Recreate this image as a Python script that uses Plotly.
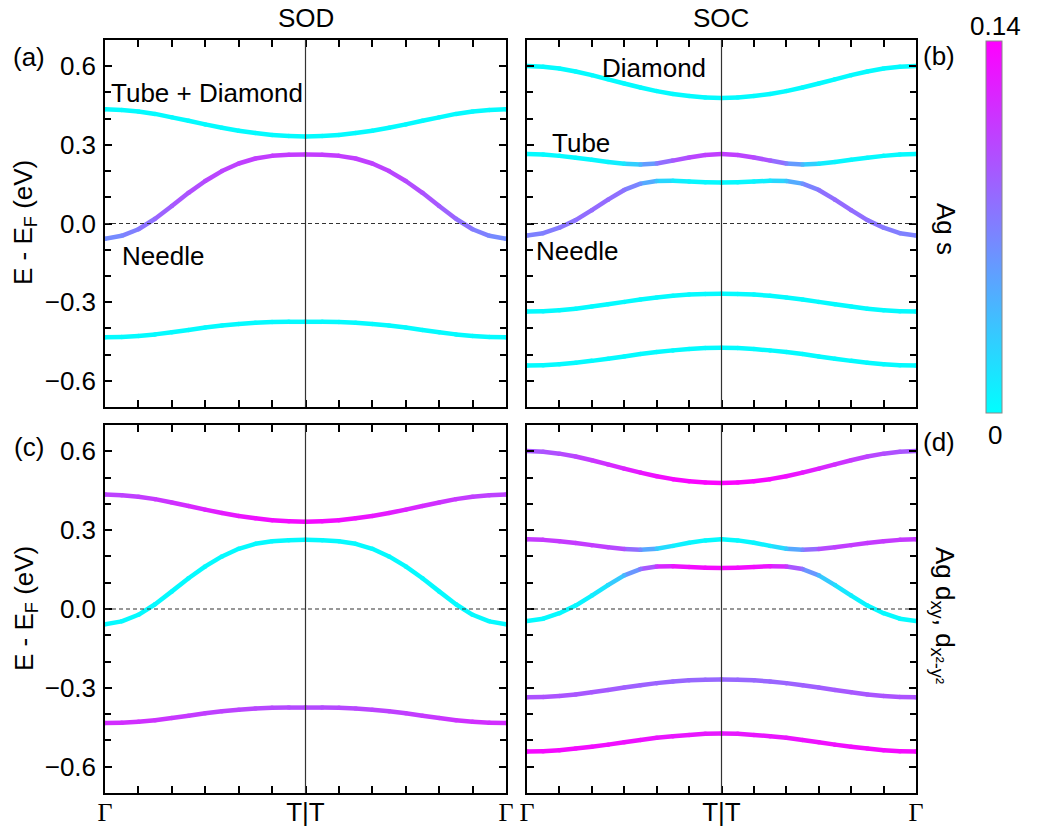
import plotly.graph_objects as go
from plotly.colors import sample_colorscale

# ---------------- data ----------------
# k-path position along Gamma -> T (the T|T -> Gamma half is the same path reversed)
K_HALF = [0, 1/12, 2/12, 3/12, 4/12, 5/12, 6/12, 7/12, 8/12, 9/12, 10/12, 11/12, 1]
K_TICKS = [0, 1, 2]
K_LABELS = ["<span style='font-family:Liberation Serif'>Γ</span>", "T|T",
            "<span style='font-family:Liberation Serif'>Γ</span>"]
E_TICKS = [-0.6, -0.3, 0.0, 0.3, 0.6]
W_MIN, W_MAX = 0.0, 0.14

# SOD band energies (eV), Gamma -> T
SOD_UPPER = [0.436, 0.433, 0.427, 0.418, 0.405, 0.392, 0.378, 0.365, 0.354, 0.345, 0.338, 0.334, 0.332]
SOD_NEEDLE = [-0.058, -0.047, -0.022, 0.018, 0.067, 0.117, 0.162, 0.200, 0.229, 0.248, 0.258, 0.262, 0.263]
SOD_LOWER = [-0.434, -0.433, -0.429, -0.423, -0.415, -0.406, -0.397, -0.389, -0.383, -0.379, -0.376, -0.375, -0.375]

# SOC band energies (eV), Gamma -> T
SOC_DIAMOND = [0.601, 0.598, 0.591, 0.580, 0.566, 0.550, 0.534, 0.519, 0.505, 0.494, 0.486, 0.481, 0.479]
SOC_TUBE = [0.265, 0.263, 0.258, 0.251, 0.243, 0.235, 0.228, 0.225, 0.229, 0.240, 0.252, 0.261, 0.265]
SOC_NEEDLE = [-0.046, -0.037, -0.016, 0.013, 0.051, 0.091, 0.128, 0.152, 0.162, 0.163, 0.160, 0.157, 0.156]
SOC_LOWER1 = [-0.336, -0.335, -0.331, -0.325, -0.317, -0.308, -0.299, -0.290, -0.282, -0.276, -0.271, -0.269, -0.268]
SOC_LOWER2 = [-0.542, -0.541, -0.537, -0.531, -0.524, -0.516, -0.507, -0.498, -0.490, -0.484, -0.479, -0.475, -0.474]

# Ag s weights (panels a, b)
S_SOD_UPPER = [0.002, 0.002, 0.002, 0.002, 0.002, 0.002, 0.002, 0.002, 0.002, 0.002, 0.002, 0.002, 0.002]
S_SOD_NEEDLE = [0.062, 0.066, 0.073, 0.082, 0.090, 0.096, 0.100, 0.103, 0.105, 0.106, 0.107, 0.107, 0.107]
S_SOD_LOWER = [0.002, 0.002, 0.002, 0.002, 0.002, 0.002, 0.002, 0.002, 0.002, 0.002, 0.002, 0.002, 0.002]
S_SOC_DIAMOND = [0.002, 0.002, 0.002, 0.002, 0.002, 0.002, 0.002, 0.002, 0.002, 0.002, 0.002, 0.002, 0.002]
S_SOC_TUBE = [0.002, 0.002, 0.002, 0.003, 0.004, 0.005, 0.014, 0.040, 0.070, 0.090, 0.100, 0.105, 0.107]
S_SOC_NEEDLE = [0.068, 0.070, 0.074, 0.078, 0.081, 0.081, 0.076, 0.060, 0.032, 0.012, 0.005, 0.003, 0.002]
S_SOC_LOWER1 = [0.002, 0.002, 0.002, 0.002, 0.002, 0.002, 0.002, 0.002, 0.002, 0.002, 0.002, 0.002, 0.002]
S_SOC_LOWER2 = [0.002, 0.002, 0.002, 0.002, 0.002, 0.002, 0.002, 0.002, 0.002, 0.002, 0.002, 0.002, 0.002]

# Ag dxy, dx2-y2 weights (panels c, d)
D_SOD_UPPER = [0.103, 0.104, 0.106, 0.109, 0.113, 0.117, 0.121, 0.125, 0.128, 0.131, 0.133, 0.134, 0.135]
D_SOD_NEEDLE = [0.003, 0.003, 0.003, 0.003, 0.003, 0.003, 0.003, 0.003, 0.003, 0.003, 0.003, 0.003, 0.003]
D_SOD_LOWER = [0.116, 0.115, 0.114, 0.112, 0.110, 0.108, 0.106, 0.104, 0.102, 0.101, 0.100, 0.099, 0.099]
D_SOC_DIAMOND = [0.092, 0.094, 0.098, 0.103, 0.109, 0.115, 0.121, 0.127, 0.132, 0.135, 0.137, 0.138, 0.138]
D_SOC_TUBE = [0.108, 0.108, 0.108, 0.108, 0.107, 0.105, 0.095, 0.065, 0.030, 0.010, 0.005, 0.003, 0.002]
D_SOC_NEEDLE = [0.002, 0.002, 0.003, 0.004, 0.008, 0.018, 0.040, 0.075, 0.110, 0.128, 0.133, 0.134, 0.134]
D_SOC_LOWER1 = [0.095, 0.095, 0.094, 0.093, 0.092, 0.090, 0.088, 0.087, 0.085, 0.084, 0.083, 0.083, 0.083]
D_SOC_LOWER2 = [0.135, 0.135, 0.134, 0.134, 0.133, 0.132, 0.131, 0.130, 0.129, 0.128, 0.128, 0.127, 0.127]

COLORSCALE = [[0.0, "#00ffff"], [1.0, "#ff00ff"]]
FONT = "Liberation Sans, Arial, sans-serif"
FS = 26

FIG_W, FIG_H = 1040, 830

def px_x(px):
    return px / FIG_W

def px_y(py):
    return 1 - py / FIG_H

# ---------------- helpers ----------------
def full_path(half):
    return list(half) + list(half[-2::-1])

K_FULL = list(K_HALF) + [2 - k for k in K_HALF[-2::-1]]

panels = [
    ("x", "y", [(SOD_UPPER, S_SOD_UPPER), (SOD_NEEDLE, S_SOD_NEEDLE), (SOD_LOWER, S_SOD_LOWER)]),
    ("x2", "y2", [(SOC_DIAMOND, S_SOC_DIAMOND), (SOC_TUBE, S_SOC_TUBE), (SOC_NEEDLE, S_SOC_NEEDLE),
                  (SOC_LOWER1, S_SOC_LOWER1), (SOC_LOWER2, S_SOC_LOWER2)]),
    ("x3", "y3", [(SOD_UPPER, D_SOD_UPPER), (SOD_NEEDLE, D_SOD_NEEDLE), (SOD_LOWER, D_SOD_LOWER)]),
    ("x4", "y4", [(SOC_DIAMOND, D_SOC_DIAMOND), (SOC_TUBE, D_SOC_TUBE), (SOC_NEEDLE, D_SOC_NEEDLE),
                  (SOC_LOWER1, D_SOC_LOWER1), (SOC_LOWER2, D_SOC_LOWER2)]),
]

fig = go.Figure()
LW = 4.5
first_marker = True
for xa, ya, bands in panels:
    for e_half, w_half in bands:
        E = full_path(e_half)
        W = full_path(w_half)
        for i in range(len(K_FULL) - 1):
            w = 0.5 * (W[i] + W[i + 1])
            col = sample_colorscale(COLORSCALE, [(w - W_MIN) / (W_MAX - W_MIN)])[0]
            fig.add_trace(go.Scatter(
                x=[K_FULL[i], K_FULL[i + 1]], y=[E[i], E[i + 1]],
                mode="lines", line=dict(color=col, width=LW),
                xaxis=xa, yaxis=ya, showlegend=False, hoverinfo="skip"))
        mk = dict(size=LW, color=W, colorscale=COLORSCALE, cmin=W_MIN, cmax=W_MAX,
                  line=dict(width=0))
        if first_marker:
            mk.update(showscale=True, colorbar=dict(
                x=px_x(986), xanchor="left", xref="paper",
                y=px_y(41), yanchor="top", yref="paper",
                len=372, lenmode="pixels", thickness=16, thicknessmode="pixels",
                outlinewidth=1, outlinecolor="#888", showticklabels=False, ticks="",
                title=dict(text="", side="right"),
                xpad=0, ypad=0))
            first_marker = False
        fig.add_trace(go.Scatter(x=K_FULL, y=E, mode="markers", marker=mk,
                                 xaxis=xa, yaxis=ya, showlegend=False, hoverinfo="skip"))

# ---------------- axes ----------------
XL = [px_x(105), px_x(506)]
XR = [px_x(527), px_x(916)]
YT = [px_y(407), px_y(40)]
YB = [px_y(793), px_y(425)]

def xax(dom, anchor, labels):
    return dict(domain=dom, anchor=anchor, range=[0, 2], showgrid=False, zeroline=False,
                showline=True, linecolor="black", linewidth=1.5, mirror="ticks",
                ticks="inside", ticklen=7, tickwidth=1.5, tickcolor="black",
                tickvals=K_TICKS, ticktext=K_LABELS, showticklabels=labels,
                ticklabelstandoff=-5,
                tickfont=dict(family=FONT, size=FS, color="black"),
                minor=dict(ticks="inside", dtick=1 / 6, tick0=0, ticklen=7,
                           tickwidth=1.5, tickcolor="black", showgrid=False))

def yax(dom, anchor, labels):
    return dict(domain=dom, anchor=anchor, range=[-0.7, 0.7], showgrid=False, zeroline=False,
                showline=True, linecolor="black", linewidth=1.5, mirror="ticks",
                ticks="inside", ticklen=7, tickwidth=1.5, tickcolor="black",
                tickvals=E_TICKS, tickformat=".1f", showticklabels=labels,
                ticklabelstandoff=2,
                tickfont=dict(family=FONT, size=FS, color="black"),
                minor=dict(ticks="inside", dtick=0.1, tick0=0, ticklen=6,
                           tickwidth=1.5, tickcolor="black", showgrid=False))

fig.update_layout(
    xaxis=xax(XL, "y", False), yaxis=yax(YT, "x", True),
    xaxis2=xax(XR, "y2", False), yaxis2=yax(YT, "x2", False),
    xaxis3=xax(XL, "y3", True), yaxis3=yax(YB, "x3", True),
    xaxis4=xax(XR, "y4", True), yaxis4=yax(YB, "x4", False),
)

shapes = []
for xa, ya, _ in panels:
    shapes.append(dict(type="line", xref=xa, yref=ya + " domain", x0=1, x1=1, y0=0, y1=1,
                       line=dict(color="#333", width=1.2), layer="above"))
    shapes.append(dict(type="line", xref=xa + " domain", yref=ya, x0=0, x1=1, y0=0, y1=0,
                       line=dict(color="#333", width=1.2, dash="4px,3px"), layer="above"))

def pa(text, px, py, angle=0, size=FS):
    return dict(text=text, x=px_x(px), y=px_y(py), xref="paper", yref="paper",
                xanchor="center", yanchor="middle", showarrow=False, textangle=angle,
                font=dict(family=FONT, size=size, color="black"))

def da(text, xa, ya, k, e, size=FS):
    return dict(text=text, x=k, y=e, xref=xa, yref=ya, xanchor="left", yanchor="middle",
                showarrow=False, font=dict(family=FONT, size=size, color="black"))

annotations = [
    pa("SOD", 306, 18), pa("SOC", 721, 18),
    pa("(a)", 29, 57), pa("(c)", 29, 447), pa("(b)", 939, 56), pa("(d)", 939, 442),
    pa("E - E<sub>F</sub> (eV)", 25, 223, -90), pa("E - E<sub>F</sub> (eV)", 25, 609, -90),
    pa("Ag s", 946, 229, 90),
    pa("Ag d<sub>xy</sub>, d<sub>x²-y²</sub>", 944, 615, 90),
    pa("0.14", 995, 26), pa("0", 995, 435),
    da("Tube + Diamond", "x", "y", 0.02, 0.496),
    da("Needle", "x", "y", 0.075, -0.125),
    da("Diamond", "x2", "y2", 0.376, 0.595),
    da("Tube", "x2", "y2", 0.119, 0.306),
    da("Needle", "x2", "y2", 0.036, -0.106),
]

fig.update_layout(
    width=FIG_W, height=FIG_H, autosize=False,
    margin=dict(l=0, r=0, t=0, b=0, autoexpand=False),
    paper_bgcolor="white", plot_bgcolor="white",
    shapes=shapes, annotations=annotations,
    font=dict(family=FONT, size=FS, color="black"),
    showlegend=False,
)

# remove the default page margin so the figure sits at the window's top-left corner
fig.write_html("out.html", config={"displayModeBar": False},
               post_script="document.body.style.margin='0';")
